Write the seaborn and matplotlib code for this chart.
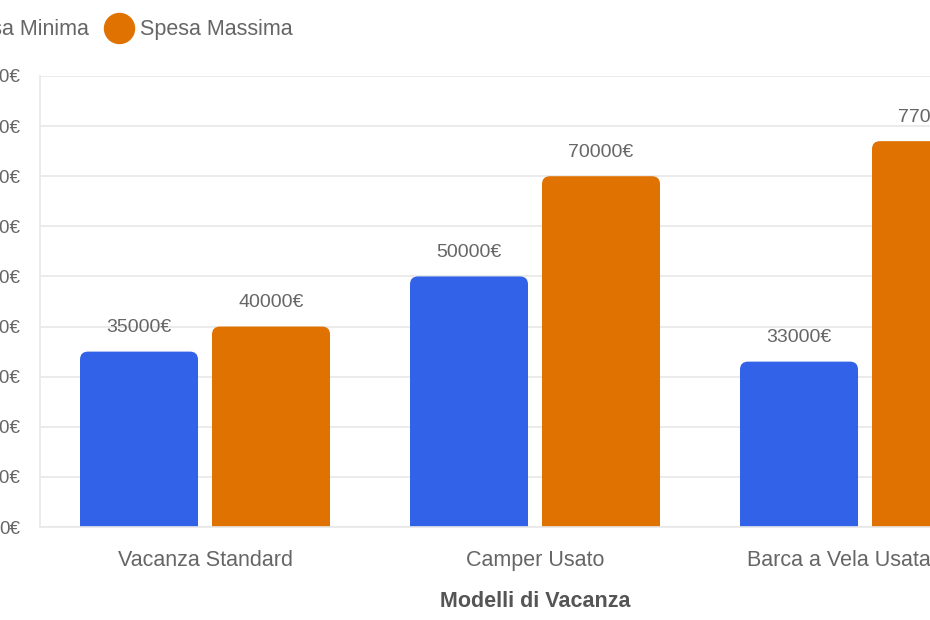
import matplotlib
matplotlib.use("Agg")
import matplotlib.pyplot as plt
import numpy as np
import pandas as pd
import seaborn as sns
from matplotlib.lines import Line2D
from matplotlib.patches import FancyBboxPatch
from matplotlib.transforms import ScaledTranslation

modelli = ["Vacanza Standard", "Camper Usato", "Barca a Vela Usata"]
spesa_minima = [35000, 50000, 33000]
spesa_massima = [40000, 70000, 77000]
serie = ["Spesa Minima", "Spesa Massima"]
colori = ["#3162E8", "#DF7200"]
y_ticks = list(range(0, 90001, 10000))

TEXT = "#666666"
GRID = "#e8e8e8"


def make_frame():
    rows = []
    for m, lo, hi in zip(modelli, spesa_minima, spesa_massima):
        rows.append({"Modello": m, "Tipo": serie[0], "Spesa": lo})
        rows.append({"Modello": m, "Tipo": serie[1], "Spesa": hi})
    return pd.DataFrame(rows)


def round_bars(ax, fig, radius_px=8):
    # swap the flat bars for boxes with rounded tops
    ax_w = ax.get_position().width * fig.get_figwidth() * fig.dpi
    ax_h = ax.get_position().height * fig.get_figheight() * fig.dpi
    x0, x1 = ax.get_xlim()
    y0, y1 = ax.get_ylim()
    rx = radius_px * (x1 - x0) / ax_w
    ry = radius_px * (y1 - y0) / ax_h
    bars = list(ax.patches)
    for bar in bars:
        x, w, h = bar.get_x(), bar.get_width(), bar.get_height()
        box = FancyBboxPatch((x, -ry), w, h + ry,
                             boxstyle=f"round,pad=0,rounding_size={rx}",
                             mutation_aspect=ry / rx,
                             facecolor=bar.get_facecolor(), edgecolor="none",
                             zorder=2)
        ax.add_patch(box)
        ax.annotate(f"{int(h)}€", (x + w / 2, h), xytext=(0, 24),
                    textcoords="offset pixels", ha="center", va="center",
                    fontsize=14, color=TEXT, annotation_clip=False)
        bar.remove()


def main():
    df = make_frame()
    sns.set_style("white")
    plt.rcParams["font.family"] = ["Liberation Sans", "DejaVu Sans"]

    fig = plt.figure(figsize=(9.3, 6.2), dpi=100)
    W, H = 930, 620
    ax = fig.add_axes([40 / W, (H - 527) / H, 990 / W, 451 / H])

    sns.barplot(data=df, x="Modello", y="Spesa", hue="Tipo", palette=colori,
                width=0.8, gap=0.106, ax=ax, legend=False, saturation=1)

    ax.set_xlim(-0.5, 2.5)
    ax.set_ylim(0, 90000)
    ax.set_yticks(y_ticks)
    ax.set_yticklabels([f"{v}€" for v in y_ticks])
    ax.yaxis.grid(True, color=GRID, linewidth=1.2, zorder=0)
    ax.set_axisbelow(True)
    for side in ["top", "right"]:
        ax.spines[side].set_visible(False)
    for side in ["left", "bottom"]:
        ax.spines[side].set_color(GRID)
        ax.spines[side].set_linewidth(1.2)

    ax.tick_params(axis="y", length=9.4, width=1.2, color=GRID, pad=5,
                   labelsize=13.5, labelcolor=TEXT)
    ax.tick_params(axis="x", length=0, pad=16.5, labelsize=15.5, labelcolor=TEXT)

    ax.set_ylabel("")
    ax.set_xlabel("Modelli di Vacanza", fontsize=15.5, fontweight="bold",
                  color="#555555", labelpad=14.5)

    # last label sits shifted left, as in the reference
    last = ax.get_xticklabels()[-1]
    last.set_transform(last.get_transform() + ScaledTranslation(-26.5 / 100, 0, fig.dpi_scale_trans))

    round_bars(ax, fig)

    handles = [Line2D([], [], marker="o", linestyle="none", markersize=21.6,
                      markerfacecolor=c, markeredgecolor=c) for c in colori]
    fig.legend(handles, serie, loc="center left", bbox_to_anchor=(-84 / W, 1 - 30 / H),
               ncol=2, frameon=False, fontsize=15.5, labelcolor=TEXT,
               handlelength=1.4, handletextpad=0.3, columnspacing=0.7,
               borderpad=0, borderaxespad=0)

    fig.savefig("out.png", dpi=100)


if __name__ == "__main__":
    main()
